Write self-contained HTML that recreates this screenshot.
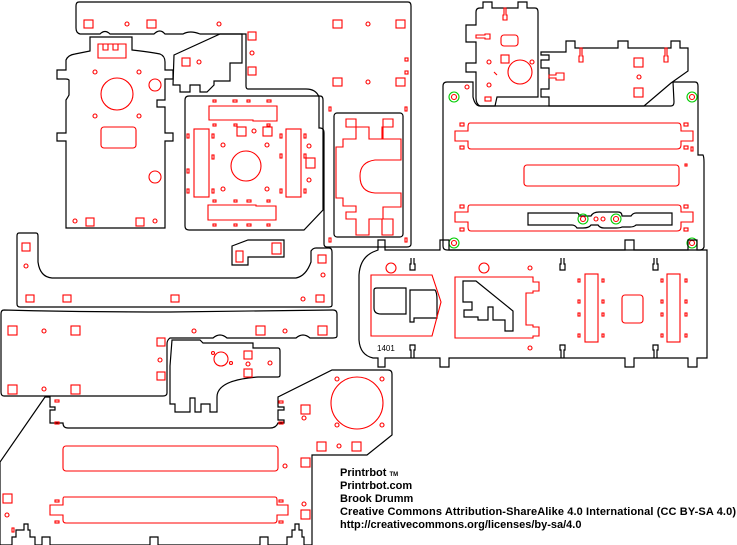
<!DOCTYPE html>
<html><head><style>
html,body{margin:0;padding:0;background:#fff;width:737px;height:545px;overflow:hidden}
svg{position:absolute;left:0;top:0}
.k{fill:none;stroke:#000;stroke-width:1.2}
.r{fill:none;stroke:#f00;stroke-width:1.1}
.g{fill:none;stroke:#0c0;stroke-width:1.1}
.t{font-family:"Liberation Sans",sans-serif;font-weight:bold;font-size:11px;fill:#000}
</style></head><body>
<svg width="737" height="545" viewBox="0 0 737 545" xmlns="http://www.w3.org/2000/svg">
<!-- top panel -->
<path class="k" d="M79,2 H408 Q411,2 411,6 V244 Q411,247 407,247 H327 Q324,247 324,244 V133 Q324,128 320,128 H319 V97 Q316,89 306,89 H248 Q246,89 246,86 V34 H200 Q190,30 183,34 H165 Q160,28 154,34 H110 Q105,29 100,34 H80 Q76,33 76,28 V6 Q76,2 79,2 Z"/>
<rect class="r" x="84" y="20" width="9" height="8"/><circle class="r" cx="127" cy="24" r="2"/><rect class="r" x="147" y="20" width="9" height="8"/><circle class="r" cx="219" cy="24" r="2"/>
<rect class="r" x="333" y="20" width="9" height="8"/><circle class="r" cx="368" cy="24" r="2"/><rect class="r" x="396" y="20" width="9" height="8"/>
<rect class="r" x="333" y="78" width="9" height="8"/><circle class="r" cx="368" cy="82" r="2"/><rect class="r" x="396" y="78" width="9" height="8"/>
<rect class="r" x="248" y="32" width="8" height="8"/><circle class="r" cx="252" cy="53" r="2"/><rect class="r" x="248" y="67" width="8" height="8"/>
<rect class="r" x="405" y="58" width="3" height="3"/><rect class="r" x="405" y="71" width="3" height="3"/><rect class="r" x="329" y="107" width="2" height="4"/><rect class="r" x="405" y="107" width="2" height="4"/><rect class="r" x="329" y="238" width="2" height="4"/><rect class="r" x="405" y="238" width="2" height="4"/>
<!-- left vertical panel -->
<path class="k" d="M92,37 H132 V50 Q150,52 160,54 Q165,56 165,62 V70 H173 V79 H165 V100 H157 V107 H165 V133 H173 V141 H165 V228 H66 V141 H57 V133 H66 V107 H66 V100 Q68,97 69,95 V80 Q68,79 66,79 H57 V70 H66 V60 Q68,55 75,54 Q85,52 90,51 V37 Z"/>
<path class="r" d="M98,44 H126 V58 H98 Z M103,44 V50 H108 V44 M113,44 V50 H118 V44"/>
<circle class="r" cx="117" cy="94" r="16"/><circle class="r" cx="95" cy="72" r="2"/><circle class="r" cx="139" cy="72" r="2"/><circle class="r" cx="95" cy="116" r="2"/><circle class="r" cx="139" cy="116" r="2"/>
<circle class="r" cx="155" cy="85" r="6"/><circle class="r" cx="155" cy="177" r="6"/>
<rect class="r" x="101" y="127" width="35" height="21" rx="3"/>
<circle class="r" cx="75" cy="221" r="2"/><rect class="r" x="86" y="218" width="8" height="8"/><rect class="r" x="136" y="218" width="8" height="8"/><circle class="r" cx="155" cy="221" r="2"/>
<!-- bracket -->
<path class="k" d="M174,55 L220,34 H242 V63 H230 V81 H214 V85 L207,92 H200 V85 H190 V92 H180 V85 H173 Z"/>
<rect class="r" x="182" y="58" width="8" height="8"/><circle class="r" cx="199" cy="62" r="2"/>
<!-- center plate -->
<path class="k" d="M189,96 H320 Q323,96 323,100 V210 L304,230 H189 Q185,230 185,226 V100 Q185,96 189,96 Z"/>
<path class="r" d="M209,106 H277 V121 H253 V120 H209 Z"/><path class="r" d="M208,205 H256 V206 H276 V220 H208 Z"/>
<rect class="r" x="194" y="129" width="15" height="68"/><rect class="r" x="286" y="129" width="15" height="68"/>
<circle class="r" cx="246" cy="166" r="15"/>
<rect class="r" x="237" y="127" width="9" height="9"/><rect class="r" x="263" y="127" width="9" height="9"/><rect class="r" x="306" y="158" width="9" height="10"/>
<g class="r"><rect x="213" y="100" width="3" height="2"/><rect x="233" y="100" width="4" height="2"/><rect x="247" y="100" width="3" height="2"/><rect x="267" y="100" width="4" height="2"/><rect x="213" y="124" width="3" height="2"/><rect x="234" y="124" width="3" height="2"/><rect x="267" y="124" width="3" height="2"/><rect x="213" y="200" width="3" height="2"/><rect x="234" y="200" width="3" height="2"/><rect x="247" y="200" width="4" height="2"/><rect x="267" y="200" width="3" height="2"/><rect x="213" y="224" width="3" height="2"/><rect x="234" y="224" width="3" height="2"/><rect x="247" y="224" width="4" height="2"/><rect x="267" y="224" width="3" height="2"/>
<rect x="187" y="134" width="2" height="4"/><rect x="212" y="134" width="2" height="4"/><rect x="187" y="169" width="2" height="4"/><rect x="212" y="155" width="2" height="4"/><rect x="187" y="189" width="2" height="4"/><rect x="212" y="189" width="2" height="4"/><rect x="280" y="134" width="2" height="4"/><rect x="304" y="134" width="2" height="4"/><rect x="280" y="154" width="2" height="4"/><rect x="304" y="154" width="2" height="4"/><rect x="280" y="189" width="2" height="4"/><rect x="304" y="189" width="2" height="4"/>
<circle cx="223" cy="145" r="2"/><circle cx="267" cy="145" r="2"/><circle cx="223" cy="189" r="2"/><circle cx="267" cy="189" r="2"/><circle cx="254" cy="131" r="2"/><circle cx="309" cy="146" r="2"/><circle cx="309" cy="180" r="2"/></g>
<!-- right small plate -->
<rect class="k" x="334" y="113" width="69" height="124" rx="3"/>
<path class="r" d="M336,147 H343 V139 H356 V127 H346 V119 H356 V127 H369 V139 H382 V127 H393 V119 H383 V139 H401 V160 H375 Q360,162 360,176 Q360,192 375,193 H401 V207 H383 V219 H393 V235 H382 V219 H369 V235 H356 V219 H346 V212 H356 V206 H343 V198 H336 Z"/>
<!-- clip -->
<path class="k" d="M232,246 L248,240 H284 V257 H248 V265 H232 Z"/>
<rect class="r" x="236" y="251" width="7" height="11"/><rect class="r" x="272" y="243" width="9" height="11"/>
<!-- long bar -->
<path class="k" d="M19,233 H36 Q38,233 38,236 V262 Q40,277 52,278 H296 Q306,276 311,262 V251 Q313,248 316,248 H329 Q332,248 332,252 V305 Q332,307 329,307 H20 Q17,307 17,304 V236 Q17,233 19,233 Z"/>
<rect class="r" x="22" y="243" width="8" height="8"/><circle class="r" cx="26" cy="266" r="2"/><rect class="r" x="26" y="295" width="8" height="7"/><rect class="r" x="63" y="295" width="8" height="7"/><rect class="r" x="171" y="295" width="8" height="7"/><rect class="r" x="316" y="295" width="8" height="7"/><rect class="r" x="318" y="255" width="8" height="8"/><circle class="r" cx="303" cy="299" r="2"/><circle class="r" cx="323" cy="275" r="2"/>
<!-- upper left panel -->
<path class="k" d="M4,310 Q80,312 170,312 Q260,311 333,310 Q337,310 337,314 V336 Q337,338 333,338 H310 Q303,332 296,338 H227 Q220,332 213,338 H170 Q167,340 167,344 V393 Q167,396 163,396 H4 Q1,396 1,392 V314 Q1,310 4,310 Z"/>
<g class="r"><rect x="8" y="326" width="9" height="9"/><rect x="71" y="326" width="9" height="9"/><rect x="8" y="385" width="9" height="9"/><rect x="71" y="385" width="9" height="9"/><rect x="157" y="338" width="8" height="8"/><rect x="157" y="372" width="8" height="8"/><rect x="256" y="326" width="9" height="9"/><rect x="318" y="326" width="9" height="9"/>
<circle cx="44" cy="331" r="2"/><circle cx="44" cy="389" r="2"/><circle cx="160" cy="360" r="2"/><circle cx="194" cy="331" r="2"/><circle cx="285" cy="331" r="2"/></g>
<!-- middle bracket -->
<path class="k" d="M172,340 H200 L203,343 H253 V348 H278 Q280,348 280,351 V375 Q280,377 278,377 H258 Q217,380 217,397 V412 H210 V404 H201 V412 H195 V398 H190 V412 H175 V404 H170 V366 Z"/>
<circle class="r" cx="221" cy="359" r="7"/><circle class="r" cx="213" cy="353" r="1.5"/><circle class="r" cx="231" cy="363" r="1.5"/><rect class="r" x="244" y="351" width="8" height="8"/><rect class="r" x="244" y="369" width="8" height="8"/><circle class="r" cx="248" cy="364" r="2"/><circle class="r" cx="270" cy="363" r="2"/>
<!-- bottom big panel -->
<path class="k" d="M0,462 V545 H12 V537 H16 V530 H24 V524 H28 V530 H30 V537 H35 V545 H42 V537 H50 V545 H150 V537 H158 V545 H260 V537 H268 V545 H287 V537 H292 V530 H295 V524 H299 V530 H302 V537 H304 V545 H312 V455 H367 L392,435 V374 Q392,370 388,370 H332 L278,397 V407 H284 V410 H278 V420 H284 V423 H278 Q276,428 270,428 H68 Q63,428 63,423 H50 V410 H55 V407 H50 V397 H45 Z"/>
<g class="r"><rect x="63" y="446" width="215" height="25" rx="3"/><path d="M64,497 H275 Q277,497 277,500 V505 H288 V515 H277 V520 Q277,523 274,523 H66 Q63,523 63,520 V515 H50 V505 H63 V500 Q63,497 64,497 Z"/>
<circle cx="357" cy="403" r="26"/><circle cx="337" cy="379" r="2"/><circle cx="382" cy="379" r="2"/><circle cx="337" cy="425" r="2"/><circle cx="382" cy="425" r="2"/>
<rect x="301" y="405" width="9" height="9"/><rect x="317" y="442" width="9" height="9"/><rect x="352" y="442" width="9" height="9"/><circle cx="339" cy="446" r="2"/><circle cx="304" cy="418" r="2"/>
<rect x="301" y="458" width="9" height="9"/><circle cx="285" cy="466" r="2"/><rect x="301" y="510" width="9" height="9"/><circle cx="304" cy="504" r="2"/>
<rect x="3" y="494" width="9" height="9"/><circle cx="7" cy="515" r="2"/><rect x="12" y="528" width="2" height="4"/>
<rect x="55" y="400" width="4" height="2"/><rect x="55" y="422" width="4" height="2"/><rect x="279" y="401" width="4" height="2"/><rect x="279" y="422" width="4" height="2"/><rect x="55" y="500" width="4" height="2"/><rect x="55" y="521" width="4" height="2"/><rect x="279" y="500" width="4" height="2"/><rect x="279" y="521" width="4" height="2"/></g>
<!-- right top small piece -->
<path class="k" d="M483,2 H492 V8 H518 V2 H527 V8 H535 Q538,8 538,12 V97 H497 L495,106 H480 Q476,104 476,98 V80 V72 H466 V63 H476 V42 H466 V25 H476 V12 Q476,8 480,8 H483 Z"/>
<g class="r"><path d="M504,8 V15 H503 V20 H507 V15 H506 V8 Z"/><path d="M476,35 H485 V34 H490 V39 H485 V38 H476 Z"/><rect x="501" y="35" width="17" height="11" rx="3"/><rect x="501" y="55" width="8" height="8"/><circle cx="520" cy="72" r="12"/><circle cx="489" cy="62" r="2"/><circle cx="532" cy="62" r="2"/><circle cx="489" cy="85" r="2"/><rect x="485" y="97" width="6" height="4"/><path d="M494,72 L497,75"/></g>
<!-- trapezoid piece -->
<path class="k" d="M541,52 H566 V41 H575 V48 H618 V41 H628 V48 H671 V41 H680 V48 H688 V71 L671,83 L644,106 H549 V97 H541 V89 H549 V68 H541 V60 H549 V55 H541 Z"/>
<g class="r"><path d="M580,48 V56 H579 V62 H583 V56 H582 V48 Z"/><path d="M665,48 V56 H664 V62 H668 V56 H667 V48 Z"/><path d="M549,75 H556 V73 H564 V80 H556 V78 H549 Z"/><rect x="634" y="58" width="9" height="9"/><rect x="634" y="88" width="9" height="9"/><circle cx="639" cy="77" r="2"/></g>
<!-- right big panel -->
<path class="k" d="M447,82 H473 V97 Q475,106 480,106 H671 Q674,106 674,102 L673,82 H695 Q698,82 698,86 V155 H703 Q704,157 704,162 V247 Q703,250 700,250 H447 Q443,250 443,246 V86 Q443,82 447,82 Z"/>
<g class="r"><path d="M470,123 H678 Q681,123 681,127 V131 H693 V141 H681 V145 Q681,149 677,149 H471 Q468,149 468,146 V141 H455 V131 H468 V127 Q468,123 470,123 Z"/><rect x="524" y="165" width="155" height="21" rx="3"/>
<path d="M470,205 H678 Q681,205 681,208 V212 H693 V222 H681 V227 Q681,231 677,231 H471 Q468,231 468,227 V222 H455 V212 H468 V208 Q468,205 470,205 Z"/>
<rect x="460" y="123" width="4" height="3"/><rect x="460" y="146" width="4" height="3"/><rect x="684" y="123" width="4" height="3"/><rect x="684" y="146" width="4" height="3"/><rect x="460" y="205" width="4" height="3"/><rect x="460" y="228" width="4" height="3"/><rect x="684" y="205" width="4" height="3"/><rect x="684" y="228" width="4" height="3"/><rect x="691" y="147" width="2" height="4"/><circle cx="467" cy="87" r="2"/><circle cx="596" cy="219" r="2"/><rect x="685" y="164" width="2" height="2"/></g>
<path class="k" d="M528,213 H577 Q579,213 579,216 H591 Q593,212 599,212 H618 Q622,212 622,216 H631 Q633,213 636,213 H672 V225 H636 Q634,227 630,227 H622 Q620,228 616,228 H604 Q600,228 598,225 H591 Q589,228 583,228 H577 Q575,225 572,225 H528 Z"/>
<g class="g"><circle cx="454" cy="97" r="5"/><circle cx="692" cy="97" r="5"/><circle cx="454" cy="243" r="5"/><circle cx="692" cy="243" r="5"/><circle cx="583" cy="219" r="5"/><circle cx="616" cy="219" r="5"/></g>
<g class="r"><circle cx="454" cy="97" r="2.5"/><circle cx="692" cy="97" r="2.5"/><circle cx="454" cy="243" r="2.5"/><circle cx="692" cy="243" r="2.5"/><circle cx="583" cy="219" r="2.5"/><circle cx="616" cy="219" r="2.5"/><circle cx="603" cy="219" r="2"/></g>
<!-- right long bar -->
<path class="k" d="M378,250 V240 H385 V250 H440 V240 H449 V250 H625 V240 H634 V250 H688 V240 H697 V250 H707 V358 H697 V367 H688 V358 H634 V367 H625 V358 H449 V367 H440 V358 H385 V367 H378 V358 H373 Q360,355 359,340 V275 Q360,258 373,252 Z"/>
<g class="k"><path d="M411,258 V264 H410 V270 H415 V264 H414 V258"/><path d="M561,258 V264 H560 V270 H565 V264 H564 V258"/><path d="M654,258 V264 H653 V270 H658 V264 H657 V258"/><path d="M411,358 V350 H410 V345 H415 V350 H414 V358"/><path d="M561,358 V350 H560 V345 H565 V350 H564 V358"/><path d="M654,358 V350 H653 V345 H658 V350 H657 V358"/>
<path d="M374,290 Q374,288 377,288 H406 V314 H381 Q374,314 374,308 Z"/><path d="M410,290 H435 Q437,292 437,300 V318 H422 V318 H414 V322 H410 Z"/>
<path d="M463,281 H476 L513,311 V331 H505 V320 H493 V307 H488 V320 H478 V317 H464 V310 H472 V302 H463 Z"/></g>
<g class="r"><path d="M371,275 H432 L441,302 L432,336 H371 Z"/><circle cx="391" cy="268" r="5"/><circle cx="484" cy="268" r="5"/><circle cx="530" cy="268" r="2"/><circle cx="530" cy="348" r="2"/>
<path d="M455,277 H533 V282 H539 V291 H533 V293 H526 V325 H533 V327 H539 V336 H533 V338 H455 Z"/>
<rect x="585" y="274" width="13" height="68"/><rect x="667" y="274" width="13" height="68"/><rect x="622" y="295" width="21" height="28" rx="3"/>
<rect x="578" y="279" width="2" height="3"/><rect x="602" y="279" width="2" height="3"/><rect x="578" y="300" width="2" height="3"/><rect x="602" y="300" width="2" height="3"/><rect x="578" y="313" width="2" height="3"/><rect x="602" y="313" width="2" height="3"/><rect x="578" y="334" width="2" height="3"/><rect x="602" y="334" width="2" height="3"/>
<rect x="661" y="279" width="2" height="3"/><rect x="685" y="279" width="2" height="3"/><rect x="661" y="300" width="2" height="3"/><rect x="685" y="300" width="2" height="3"/><rect x="661" y="313" width="2" height="3"/><rect x="685" y="313" width="2" height="3"/><rect x="661" y="334" width="2" height="3"/><rect x="685" y="334" width="2" height="3"/></g>
<text x="377" y="351" font-family="Liberation Sans,sans-serif" font-size="8" fill="#000">1401</text>
<!-- text -->
<text class="t" x="340" y="476">Printrbot <tspan font-size="6">TM</tspan></text>
<text class="t" x="340" y="489">Printrbot.com</text>
<text class="t" x="340" y="502">Brook Drumm</text>
<text class="t" x="340" y="515" textLength="396">Creative Commons Attribution-ShareAlike 4.0 International (CC BY-SA 4.0)</text>
<text class="t" x="340" y="528">http://creativecommons.org/licenses/by-sa/4.0</text>
</svg>
</body></html>
